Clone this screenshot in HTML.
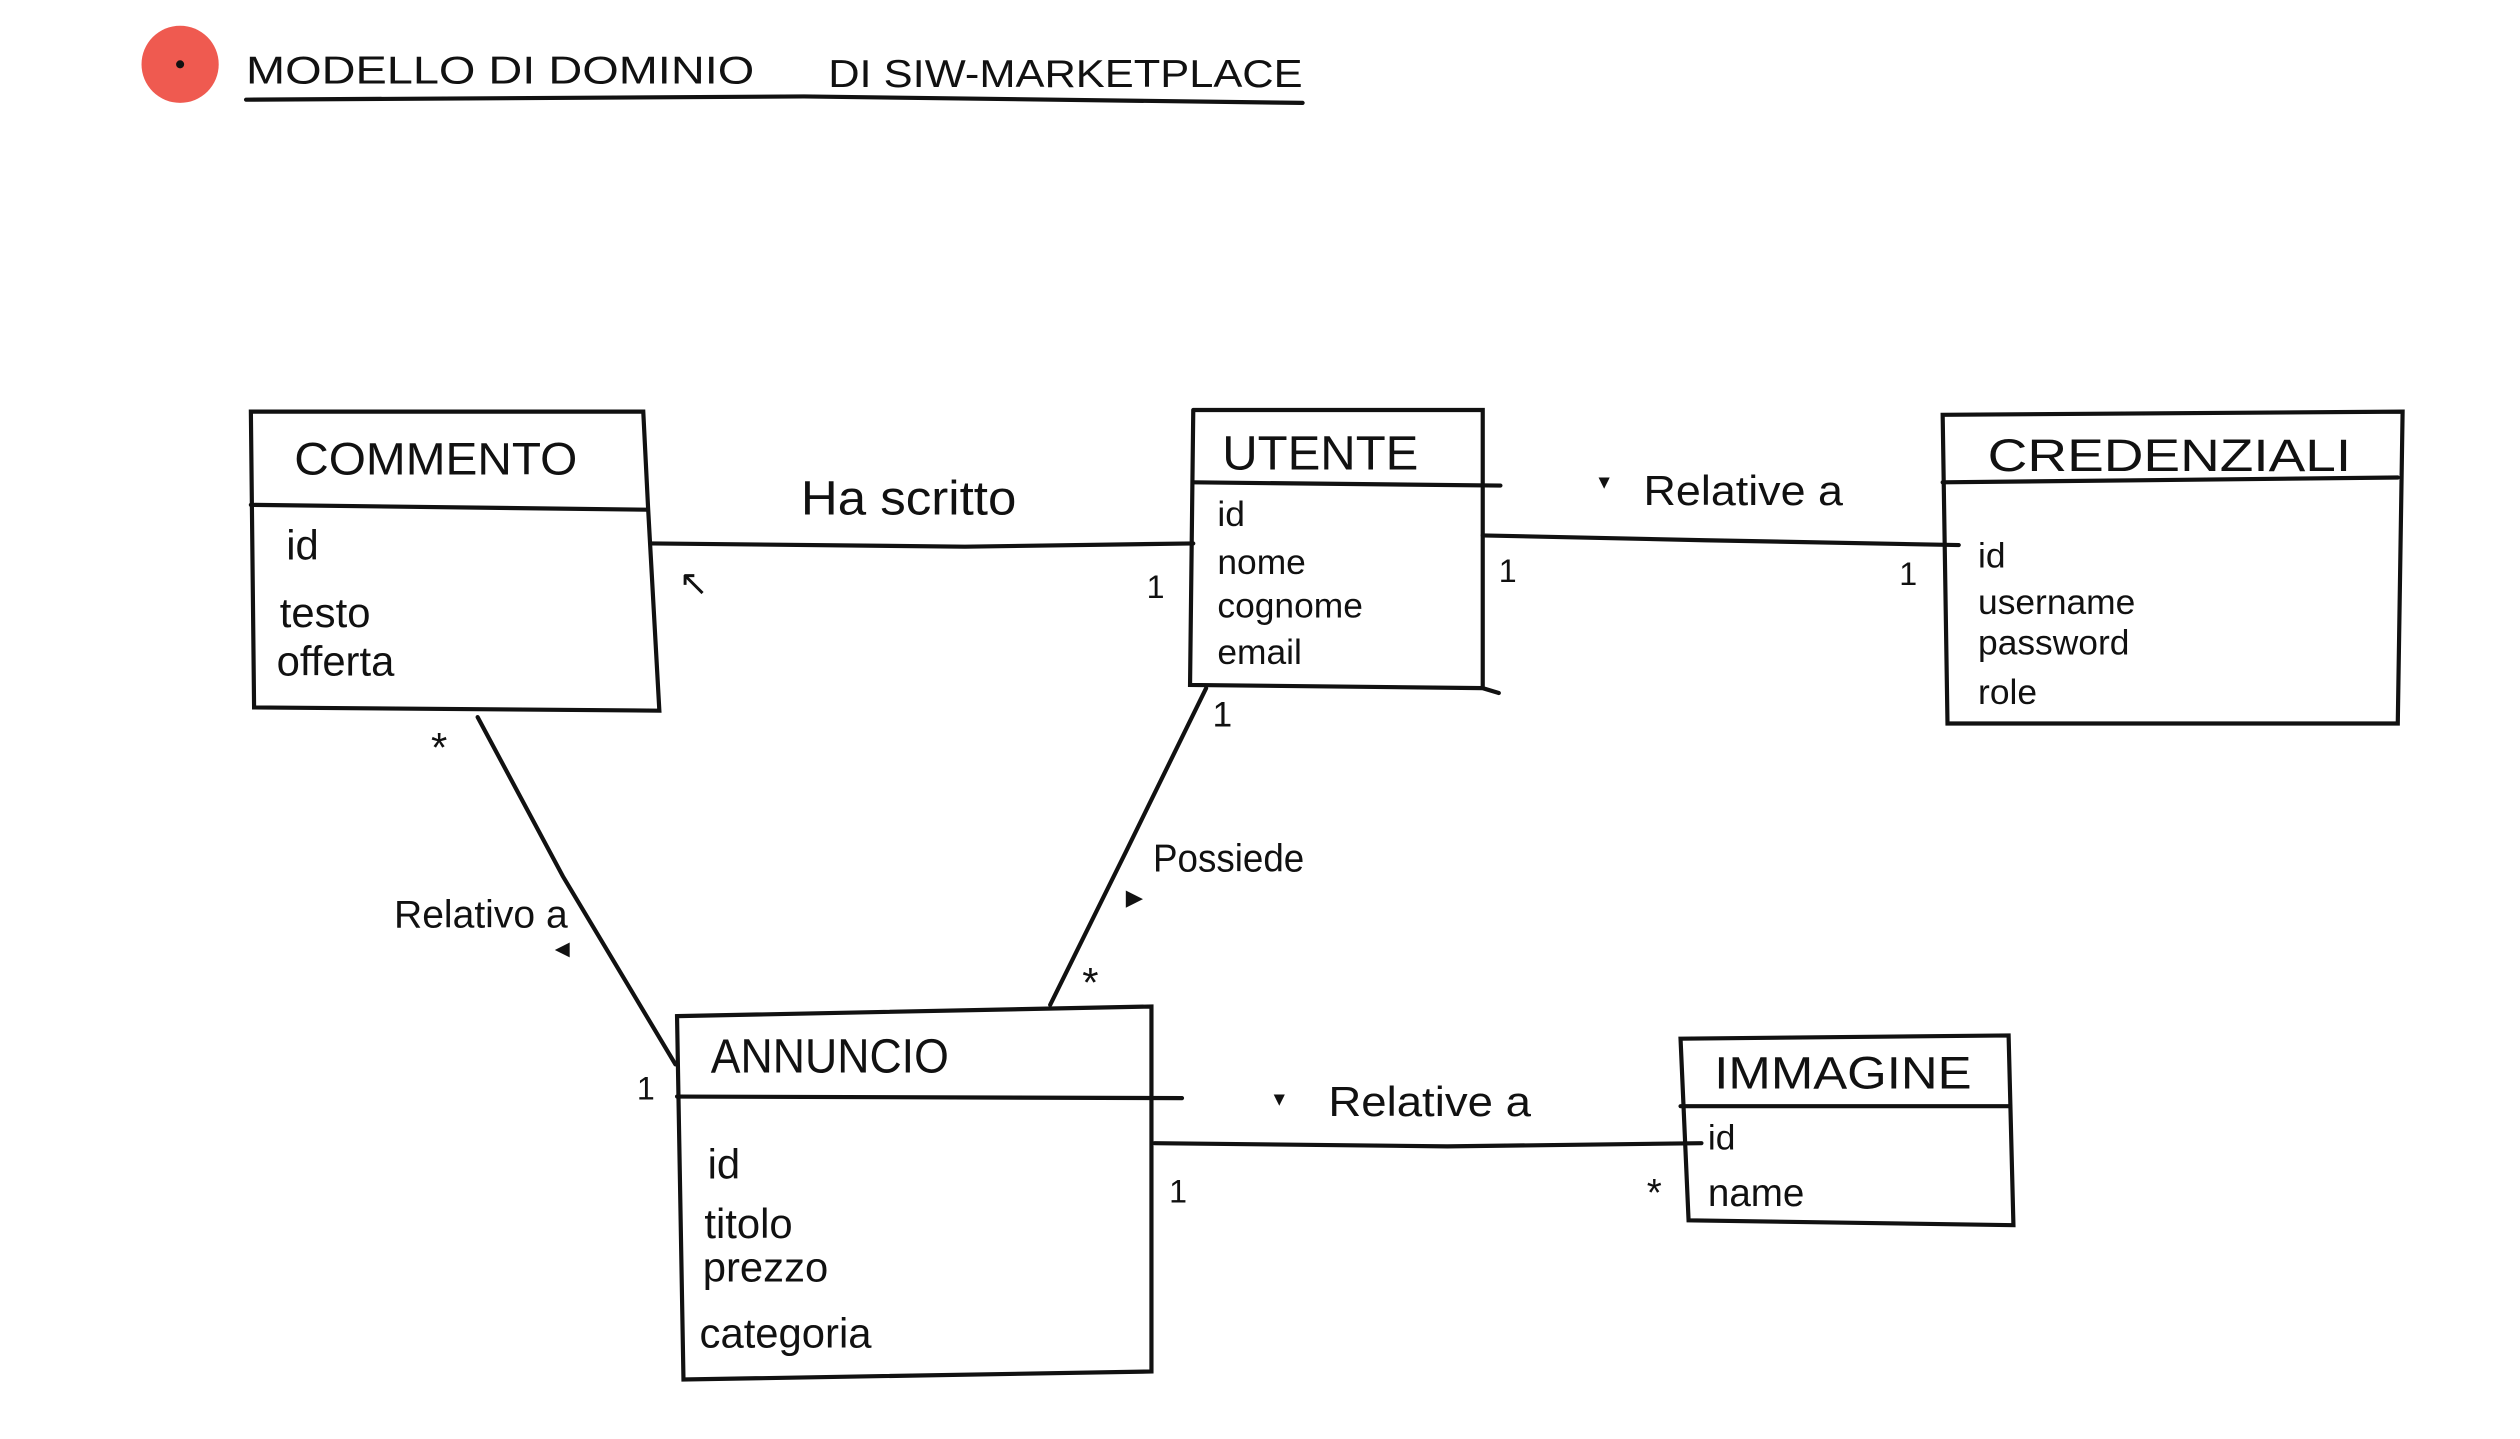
<!DOCTYPE html>
<html><head><meta charset="utf-8"><style>
html,body{margin:0;padding:0;background:#fff;width:2520px;height:1439px;overflow:hidden}
svg{display:block}
text{font-family:"Liberation Sans",sans-serif;fill:#111}
</style></head><body>
<svg width="2520" height="1439" viewBox="0 0 1567 895" preserveAspectRatio="none" xmlns="http://www.w3.org/2000/svg">
<g fill="none" stroke="#111" stroke-width="2.6" stroke-linecap="round">
<circle cx="112" cy="40" r="24" fill="#ef5a50" stroke="none"/>
<circle cx="112" cy="40" r="2.5" fill="#111" stroke="none"/>
<path d="M153 62 L500 60 L810 64"/>
<path d="M156 256 L400 256 L403 316 L410 442 L158 440 Z"/>
<path d="M156 314 L402 317"/>
<path d="M742 255 L922 255 L922 428 L932 431 M742 255 L740 426 L922 428"/>
<path d="M742 300 L933 302"/>
<path d="M1208 258 L1494 256 L1491 450 L1211 450 Z"/>
<path d="M1208 300 L1491 297"/>
<path d="M421 632 L716 626 L716 853 L425 858 Z"/>
<path d="M421 682 L735 683"/>
<path d="M1045 646 L1249 644 L1252 762 L1050 759 Z"/>
<path d="M1045 688 L1250 688"/>
<path d="M405 338 L600 340 L742 338"/>
<path d="M922 333 L1060 336 L1218 339"/>
<path d="M297 446 L350 545 L420 662"/>
<path d="M750 428 L700 530 L653 625"/>
<path d="M718 711 L900 713 L1058 711"/>
</g>
<text x="153" y="52" font-size="24" textLength="316" lengthAdjust="spacingAndGlyphs">MODELLO DI DOMINIO</text>
<text x="515" y="54" font-size="24" textLength="295" lengthAdjust="spacingAndGlyphs">DI SIW-MARKETPLACE</text>
<text x="183" y="295" font-size="28" textLength="176" lengthAdjust="spacingAndGlyphs">COMMENTO</text>
<text x="178" y="348" font-size="26">id</text>
<text x="174" y="390" font-size="26">testo</text>
<text x="172" y="420" font-size="26">offerta</text>
<text x="760" y="292" font-size="30" textLength="122" lengthAdjust="spacingAndGlyphs">UTENTE</text>
<text x="757" y="327" font-size="22">id</text>
<text x="757" y="357" font-size="22">nome</text>
<text x="757" y="384" font-size="22">cognome</text>
<text x="757" y="413" font-size="22">email</text>
<text x="1236" y="293" font-size="28" textLength="226" lengthAdjust="spacingAndGlyphs">CREDENZIALI</text>
<text x="1230" y="353" font-size="22">id</text>
<text x="1230" y="382" font-size="22">username</text>
<text x="1230" y="407" font-size="22">password</text>
<text x="1230" y="438" font-size="22">role</text>
<text x="442" y="667" font-size="30" textLength="148" lengthAdjust="spacingAndGlyphs">ANNUNCIO</text>
<text x="440" y="733" font-size="26">id</text>
<text x="438" y="770" font-size="26">titolo</text>
<text x="437" y="797" font-size="26">prezzo</text>
<text x="435" y="838" font-size="26">categoria</text>
<text x="1066" y="677" font-size="28" textLength="160" lengthAdjust="spacingAndGlyphs">IMMAGINE</text>
<text x="1062" y="715" font-size="22">id</text>
<text x="1062" y="750" font-size="24">name</text>
<text x="498" y="320" font-size="30" textLength="134" lengthAdjust="spacingAndGlyphs">Ha scritto</text>
<text x="422" y="370" font-size="22">↖</text>
<text x="713" y="372" font-size="20">1</text>
<text x="994" y="304" font-size="14">▾</text>
<text x="1022" y="314" font-size="26" textLength="124" lengthAdjust="spacingAndGlyphs">Relative a</text>
<text x="932" y="362" font-size="20">1</text>
<text x="1181" y="364" font-size="20">1</text>
<text x="268" y="474" font-size="26">*</text>
<text x="245" y="577" font-size="24" textLength="108" lengthAdjust="spacingAndGlyphs">Relativo a</text>
<text x="345" y="594" font-size="12">◀</text>
<text x="396" y="684" font-size="20">1</text>
<text x="754" y="452" font-size="22">1</text>
<text x="717" y="542" font-size="24" textLength="94" lengthAdjust="spacingAndGlyphs">Possiede</text>
<text x="700" y="563" font-size="14">▶</text>
<text x="673" y="620" font-size="26">*</text>
<text x="792" y="688" font-size="14">▾</text>
<text x="826" y="694" font-size="26" textLength="126" lengthAdjust="spacingAndGlyphs">Relative a</text>
<text x="727" y="748" font-size="20">1</text>
<text x="1024" y="750" font-size="24">*</text>
</svg>
</body></html>
